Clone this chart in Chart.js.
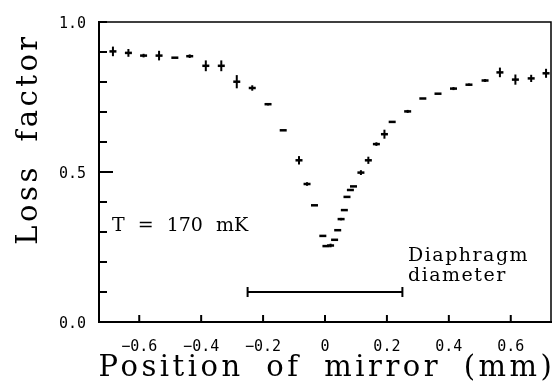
<!DOCTYPE html>
<html>
<head>
    <title>Loss factor vs position of mirror</title>
    <script src="https://cdn.jsdelivr.net/npm/chart.js"></script>
    <style>
        body { margin: 0; background: #fff; }
    </style>
</head>
<body>
    <div style="width: 558px; height: 381px;">
        <canvas id="lossChart" width="558" height="381"></canvas>
    </div>

    <script>
        // mirror position (mm) and measured loss factor, with error half-widths
        const positions = [-0.685, -0.635, -0.586, -0.536, -0.485, -0.437, -0.385, -0.335, -0.285, -0.235,
                           -0.184, -0.135, -0.084, -0.058, -0.034, -0.007, 0.003, 0.018, 0.031, 0.041,
                           0.052, 0.0625, 0.071, 0.082, 0.092, 0.116, 0.140, 0.166, 0.192, 0.217,
                           0.267, 0.316, 0.365, 0.415, 0.465, 0.517, 0.565, 0.615, 0.666, 0.714];
        const lossFactor = [0.902, 0.897, 0.888, 0.888, 0.881, 0.886, 0.854, 0.854, 0.801, 0.780,
                            0.726, 0.639, 0.539, 0.460, 0.389, 0.287, 0.253, 0.255, 0.274, 0.306,
                            0.343, 0.373, 0.417, 0.440, 0.452, 0.498, 0.539, 0.593, 0.626, 0.667,
                            0.702, 0.745, 0.761, 0.778, 0.791, 0.805, 0.832, 0.808, 0.812, 0.829];
        const lossError = [0.016, 0.013, 0.006, 0.016, 0, 0.006, 0.018, 0.018, 0.022, 0.009,
                           0.004, 0, 0.014, 0.006, 0, 0, 0, 0.006, 0, 0,
                           0.004, 0, 0, 0.003, 0, 0.008, 0.012, 0.006, 0.015, 0,
                           0.005, 0, 0, 0.005, 0.004, 0.005, 0.016, 0.017, 0.012, 0.015];

        // diaphragm diameter marker
        const diaphragmEnds = [-0.25, 0.25];
        const diaphragmLevel = 0.1;

        // labelled y ticks (the others are drawn without text)
        const yLabelled = [0, 0.5, 1.0];

        const decor = {
            id: 'decor',
            afterDatasetsDraw(chart) {
                const { ctx, chartArea: a, scales: { x, y } } = chart;
                ctx.save();
                ctx.strokeStyle = '#000';
                ctx.fillStyle = '#000';

                // error bars
                ctx.lineWidth = 2;
                positions.forEach((p, i) => {
                    const e = lossError[i];
                    if (!e) return;
                    const px = x.getPixelForValue(p);
                    ctx.beginPath();
                    ctx.moveTo(px, y.getPixelForValue(lossFactor[i] - e));
                    ctx.lineTo(px, y.getPixelForValue(lossFactor[i] + e));
                    ctx.stroke();
                });

                // top and right side of the frame
                ctx.lineWidth = 1.5;
                ctx.beginPath();
                ctx.moveTo(a.left, a.top);
                ctx.lineTo(a.right, a.top);
                ctx.lineTo(a.right, a.bottom);
                ctx.stroke();

                // ticks point inwards
                ctx.lineWidth = 2;
                y.ticks.forEach(t => {
                    const py = y.getPixelForValue(t.value);
                    const len = Math.abs(t.value - 0.5) < 1e-6 ? 14 : 8;
                    ctx.beginPath();
                    ctx.moveTo(a.left, py);
                    ctx.lineTo(a.left + len, py);
                    ctx.stroke();
                });
                x.ticks.forEach(t => {
                    const px = x.getPixelForValue(t.value);
                    ctx.beginPath();
                    ctx.moveTo(px, a.bottom);
                    ctx.lineTo(px, a.bottom - 7);
                    ctx.stroke();
                });

                // axis titles
                ctx.font = '29px "DejaVu Serif"';
                ctx.letterSpacing = '3.5px';
                ctx.wordSpacing = '10px';
                ctx.textAlign = 'center';
                ctx.textBaseline = 'alphabetic';
                ctx.fillText('Position of mirror (mm)', (a.left + a.right) / 2 + 2, 376);

                ctx.save();
                ctx.translate(37, 139);
                ctx.rotate(-Math.PI / 2);
                ctx.fillText('Loss factor', 0, 0);
                ctx.restore();

                // annotations
                ctx.textAlign = 'left';
                ctx.font = '19px "DejaVu Serif"';
                ctx.letterSpacing = '0px';
                ctx.wordSpacing = '7px';
                ctx.fillText('T = 170 mK', 112, 231);

                ctx.letterSpacing = '1.5px';
                ctx.wordSpacing = '0px';
                ctx.fillText('Diaphragm', 408, 261);
                ctx.fillText('diameter', 408, 281);
                ctx.restore();
            }
        };

        const fmtX = v => {
            if (Math.abs(v) < 1e-9) return '0';
            return (v < 0 ? '\u2212' : '') + Math.abs(v).toFixed(1);
        };

        new Chart(document.getElementById('lossChart'), {
            type: 'scatter',
            data: {
                datasets: [
                    {
                        label: 'Loss factor',
                        data: positions.map((p, i) => ({ x: p, y: lossFactor[i] })),
                        pointStyle: 'line',
                        pointRadius: 3.5,
                        borderWidth: 2.5,
                        borderColor: '#000',
                        backgroundColor: '#000'
                    },
                    {
                        label: 'Diaphragm diameter',
                        type: 'line',
                        data: diaphragmEnds.map(p => ({ x: p, y: diaphragmLevel })),
                        borderColor: '#000',
                        borderWidth: 2,
                        pointStyle: 'line',
                        pointRotation: 90,
                        pointRadius: 5,
                        pointBorderWidth: 2
                    }
                ]
            },
            options: {
                responsive: false,
                animation: false,
                layout: { padding: { top: 15, right: 5, left: 0, bottom: 0 } },
                plugins: {
                    legend: { display: false },
                    tooltip: { enabled: false }
                },
                scales: {
                    x: {
                        type: 'linear',
                        min: -0.73,
                        max: 0.73,
                        grid: { display: false, drawTicks: false },
                        border: { display: true, color: '#000', width: 2 },
                        ticks: {
                            stepSize: 0.2,
                            includeBounds: false,
                            padding: 16,
                            color: '#000',
                            font: { family: 'DejaVu Sans Mono', size: 15 },
                            callback: fmtX
                        },
                        afterFit: s => { s.height = 59; }
                    },
                    y: {
                        min: 0,
                        max: 1,
                        grid: { display: false, drawTicks: false },
                        border: { display: true, color: '#000', width: 2 },
                        ticks: {
                            stepSize: 0.1,
                            padding: 13,
                            labelOffset: 2,
                            color: '#000',
                            font: { family: 'DejaVu Sans Mono', size: 15 },
                            callback: v => yLabelled.some(l => Math.abs(l - v) < 1e-6) ? v.toFixed(1) : ''
                        },
                        afterFit: s => { s.width = 99; }
                    }
                }
            },
            plugins: [decor]
        });
    </script>
</body>
</html>
